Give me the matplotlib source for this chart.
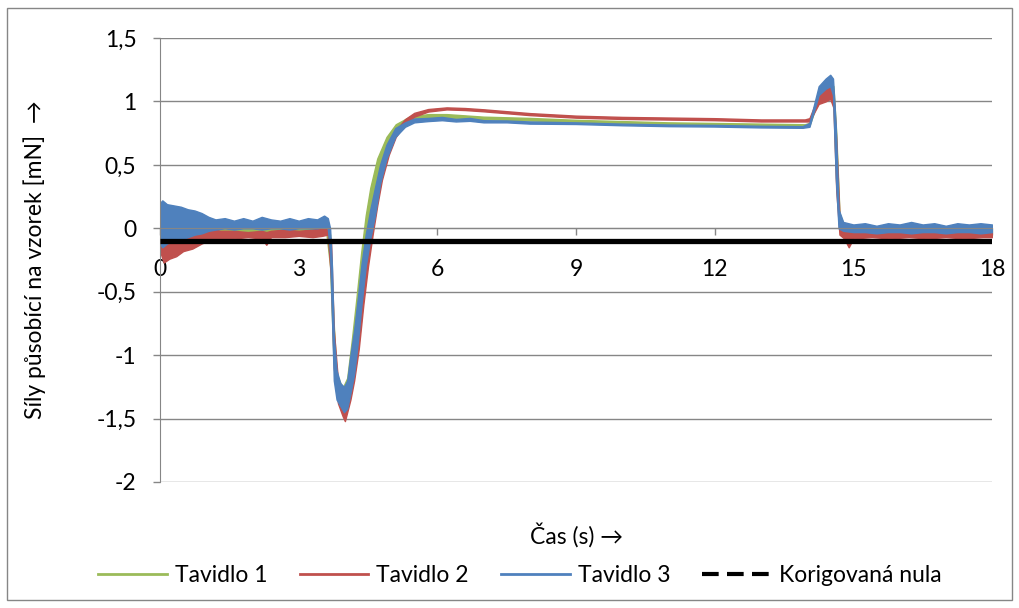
import matplotlib
matplotlib.use("Agg")
import matplotlib.pyplot as plt
from matplotlib.lines import Line2D
from matplotlib.patches import Rectangle

plt.rcParams['font.family'] = ['Lato', 'DejaVu Sans']

# data: time [s], lower / upper edge of each noisy trace [mN]
t_green = [0.0, 0.1, 0.25, 0.4, 0.6, 0.8, 1.0, 1.2, 1.5, 1.8, 2.1, 2.4, 2.7, 3.0, 3.3, 3.6,
           3.68, 3.75, 3.82, 3.95, 4.05, 4.15, 4.25, 4.35, 4.45, 4.55, 4.7, 4.9, 5.1, 5.4,
           5.8, 6.2, 7.0, 8.0, 9.0, 10.0, 11.0, 12.0, 13.0, 13.95, 14.05, 14.25, 14.5,
           14.57, 14.63, 14.7, 14.8, 15.2, 15.6, 16.0, 16.4, 16.8, 17.2, 17.6, 18.0]
lo_green = [-0.12, -0.14, -0.12, -0.11, -0.09, -0.08, -0.06, -0.05, -0.05, -0.05, -0.04, -0.05,
            -0.04, -0.05, -0.04, -0.04, -0.30, -1.00, -1.30, -1.36, -1.32, -1.12, -0.80,
            -0.45, -0.10, 0.15, 0.42, 0.65, 0.78, 0.85, 0.87, 0.87, 0.86, 0.85, 0.84, 0.83,
            0.82, 0.815, 0.81, 0.805, 0.81, 1.02, 1.08, 1.00, 0.35, -0.02, -0.05, -0.05,
            -0.06, -0.05, -0.06, -0.05, -0.06, -0.05, -0.06]
hi_green = [0.12, 0.13, 0.10, 0.09, 0.07, 0.06, 0.05, 0.04, 0.04, 0.03, 0.04, 0.03, 0.04,
            0.03, 0.04, 0.04, -0.05, -0.70, -1.15, -1.26, -1.18, -0.88, -0.55, -0.20, 0.10,
            0.32, 0.55, 0.72, 0.82, 0.88, 0.90, 0.90, 0.88, 0.87, 0.855, 0.845, 0.835, 0.83,
            0.825, 0.82, 0.83, 1.08, 1.15, 1.12, 0.75, 0.12, 0.02, 0.00, 0.01, 0.00, 0.01,
            0.00, 0.01, 0.00, 0.01]

t_red = [0.0, 0.08, 0.2, 0.35, 0.5, 0.7, 0.9, 1.1, 1.3, 1.6, 1.9, 2.2, 2.3, 2.4, 2.7, 3.0,
         3.3, 3.5, 3.63, 3.7, 3.76, 3.85, 3.95, 4.0, 4.05, 4.12, 4.2, 4.3, 4.4, 4.5, 4.6,
         4.7, 4.8, 4.95, 5.1, 5.3, 5.5, 5.8, 6.2, 6.6, 7.0, 8.0, 9.0, 10.0, 11.0, 12.0, 13.0,
         13.95, 14.05, 14.25, 14.4, 14.5, 14.57, 14.63, 14.7, 14.8, 14.9, 15.0, 15.4, 15.8,
         16.2, 16.6, 17.0, 17.4, 17.8, 18.0]
lo_red = [-0.18, -0.27, -0.24, -0.22, -0.18, -0.16, -0.12, -0.09, -0.08, -0.08, -0.07, -0.08,
          -0.13, -0.07, -0.07, -0.06, -0.07, -0.06, -0.05, -0.40, -1.10, -1.38, -1.48, -1.52,
          -1.45, -1.35, -1.20, -0.95, -0.60, -0.30, -0.05, 0.18, 0.38, 0.58, 0.72, 0.82,
          0.88, 0.92, 0.937, 0.932, 0.922, 0.892, 0.872, 0.862, 0.857, 0.852, 0.842, 0.842,
          0.842, 0.98, 1.00, 1.02, 0.95, 0.30, -0.05, -0.08, -0.15, -0.08, -0.07, -0.08,
          -0.07, -0.08, -0.07, -0.08, -0.07, -0.07]
hi_red = [0.08, 0.10, 0.08, 0.06, 0.05, 0.03, 0.02, 0.00, -0.02, -0.02, -0.03, -0.02, -0.03,
          -0.02, -0.01, -0.02, -0.01, 0.00, -0.01, -0.10, -0.80, -1.20, -1.30, -1.35, -1.30,
          -1.15, -0.95, -0.65, -0.35, -0.10, 0.10, 0.32, 0.50, 0.66, 0.77, 0.86, 0.91, 0.94,
          0.953, 0.948, 0.938, 0.908, 0.888, 0.878, 0.873, 0.868, 0.858, 0.858, 0.868, 1.05,
          1.10, 1.13, 1.08, 0.70, 0.10, 0.00, -0.03, -0.02, -0.03, -0.02, -0.03, -0.02, -0.03,
          -0.02, -0.03, -0.03]

t_blue = [0.0, 0.05, 0.15, 0.3, 0.45, 0.6, 0.75, 0.9, 1.05, 1.2, 1.4, 1.6, 1.8, 2.0, 2.2,
          2.4, 2.6, 2.8, 3.0, 3.2, 3.4, 3.55, 3.63, 3.68, 3.72, 3.76, 3.82, 3.9, 3.98, 4.05,
          4.12, 4.2, 4.28, 4.36, 4.45, 4.55, 4.65, 4.76, 4.9, 5.09, 5.3, 5.5, 5.8, 6.1, 6.4,
          6.7, 7.0, 7.5, 8.0, 9.0, 10.0, 11.0, 12.0, 13.0, 13.9, 14.05, 14.25, 14.4, 14.5,
          14.56, 14.62, 14.68, 14.78, 15.0, 15.25, 15.5, 15.75, 16.0, 16.25, 16.5, 16.75,
          17.0, 17.25, 17.5, 17.75, 18.0]
lo_blue = [-0.12, -0.15, -0.12, -0.10, -0.09, -0.07, -0.05, -0.04, -0.02, -0.01, 0.00, -0.01,
           0.00, 0.00, -0.01, 0.00, 0.00, -0.01, 0.00, 0.00, 0.00, 0.01, 0.00, -0.20, -0.70,
           -1.20, -1.35, -1.40, -1.45, -1.42, -1.30, -1.15, -0.90, -0.60, -0.30, -0.08, 0.10,
           0.35, 0.55, 0.72, 0.80, 0.835, 0.845, 0.852, 0.842, 0.847, 0.835, 0.835, 0.825,
           0.822, 0.812, 0.805, 0.802, 0.795, 0.792, 0.80, 1.05, 1.10, 1.12, 1.05, 0.40, 0.00,
           -0.02, -0.03, -0.03, -0.04, -0.03, -0.03, -0.04, -0.03, -0.03, -0.04, -0.03, -0.03,
           -0.04, -0.03]
hi_blue = [0.20, 0.22, 0.19, 0.18, 0.17, 0.15, 0.14, 0.12, 0.09, 0.07, 0.08, 0.06, 0.08,
           0.06, 0.09, 0.07, 0.06, 0.08, 0.06, 0.08, 0.07, 0.10, 0.08, 0.00, -0.30, -0.85,
           -1.12, -1.22, -1.25, -1.20, -1.00, -0.80, -0.55, -0.28, -0.05, 0.15, 0.32, 0.50,
           0.66, 0.79, 0.835, 0.865, 0.87, 0.878, 0.862, 0.87, 0.852, 0.85, 0.842, 0.835,
           0.825, 0.818, 0.815, 0.808, 0.805, 0.83, 1.12, 1.18, 1.21, 1.18, 0.80, 0.15, 0.05,
           0.03, 0.04, 0.02, 0.04, 0.03, 0.05, 0.03, 0.04, 0.02, 0.04, 0.03, 0.04, 0.03]

t_nula = [0.0, 18.0]
y_nula = [-0.1, -0.1]

names = ['Tavidlo 1', 'Tavidlo 2', 'Tavidlo 3', 'Korigovaná nula']
colors = ['#9BBB59', '#C0504D', '#4F81BD', 'black']
yticks = [-2, -1.5, -1, -0.5, 0, 0.5, 1, 1.5]
xticks = [0, 3, 6, 9, 12, 15, 18]

fs = 16.5
fig = plt.figure(figsize=(10.2, 6.08), dpi=100)
ax = fig.add_axes([160/1020, 1-482/608, 832/1020, 444/608])

grid_c = '#868686'
for yv in yticks:
    ax.axhline(yv, color=grid_c, lw=1.0, zorder=0)

series = [(t_green, lo_green, hi_green), (t_red, lo_red, hi_red), (t_blue, lo_blue, hi_blue)]
for (t, lo, hi), c in zip(series, colors[:3]):
    ax.fill_between(t, lo, hi, color=c, edgecolor=c, lw=1.0, zorder=2)

ax.plot(t_nula, y_nula, color='black', lw=3.8, solid_capstyle='butt', zorder=3)

ax.set_xlim(0, 18)
ax.set_ylim(-2, 1.5)
ax.set_xticks(xticks)
ax.set_yticks(yticks)
ax.set_yticklabels([('%g' % v).replace('.', ',') for v in yticks])
ax.spines['top'].set_visible(False)
ax.spines['right'].set_visible(False)
ax.spines['left'].set_color(grid_c)
ax.spines['bottom'].set_color(grid_c)
ax.spines['bottom'].set_position(('data', 0))
ax.tick_params(axis='both', colors=grid_c, labelcolor='black', labelsize=fs,
               direction='out', length=5, width=1.0)
ax.tick_params(axis='x', pad=17)
ax.tick_params(axis='y', pad=12)

fig.text(577/1020, 1-535/608, 'Čas (s) →', ha='center', va='center', fontsize=fs)
fig.text(35/1020, 1-260/608, 'Síly působící na vzorek [mN]  →', ha='center', va='center',
         rotation=90, fontsize=fs)

handles = [Line2D([], [], color=c, lw=2) for c in colors[:3]]
handles.append(Line2D([], [], color='black', lw=3, dashes=(4, 2)))
fig.legend(handles, names, loc='center', bbox_to_anchor=(520/1020, 1-576/608), ncol=4,
           frameon=False, fontsize=fs, handlelength=3.0, handletextpad=0.35,
           columnspacing=1.4)

fig.patches.append(Rectangle((7/1020, 8/608), 1005/1020, 592/608, transform=fig.transFigure,
                             fill=False, edgecolor=grid_c, lw=1.0))

fig.savefig('out.png', dpi=100)
